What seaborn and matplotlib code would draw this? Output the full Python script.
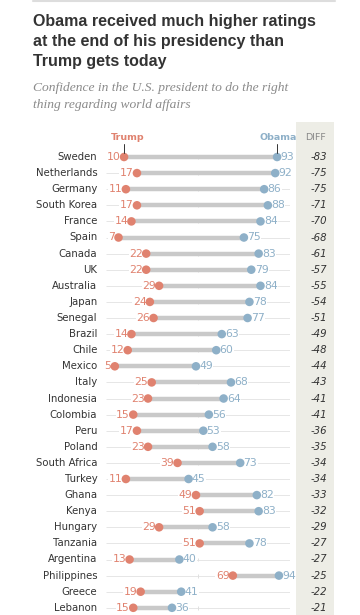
import numpy as np
import pandas as pd
import matplotlib

matplotlib.use("Agg")
import matplotlib.pyplot as plt
import seaborn as sns
from matplotlib.patches import Rectangle
from matplotlib.lines import Line2D

# Daten
countries = ["Sweden", "Netherlands", "Germany", "South Korea", "France", "Spain",
             "Canada", "UK", "Australia", "Japan", "Senegal", "Brazil", "Chile",
             "Mexico", "Italy", "Indonesia", "Colombia", "Peru", "Poland",
             "South Africa", "Turkey", "Ghana", "Kenya", "Hungary", "Tanzania",
             "Argentina", "Philippines", "Greece", "Lebanon"]
trump = [10, 17, 11, 17, 14, 7, 22, 22, 29, 24, 26, 14, 12, 5, 25, 23, 15, 17, 23,
         39, 11, 49, 51, 29, 51, 13, 69, 19, 15]
obama = [93, 92, 86, 88, 84, 75, 83, 79, 84, 78, 77, 63, 60, 49, 68, 64, 56, 53, 58,
         73, 45, 82, 83, 58, 78, 40, 94, 41, 36]
diff = [-83, -75, -75, -71, -70, -68, -61, -57, -55, -54, -51, -49, -48, -44, -43,
        -41, -41, -36, -35, -34, -34, -33, -32, -29, -27, -27, -25, -22, -21]

RED = "#E0826F"
BLUE = "#8EB0C8"
LINE = "#C9C9C9"
TEXT = "#333333"

sns.set_theme(style="white")

W, H = 360, 615
fig = plt.figure(figsize=(W / 100, H / 100), dpi=100)
fig.patch.set_facecolor("white")

# pixel helpers
def fx(px):
    return px / W

def fy(py):
    return 1 - py / H

x0, x100 = 105.6, 290.0
row0, step = 157.0, 16.1
ax_top = 145.0
ax = fig.add_axes([fx(x0), 0, fx(x100) - fx(x0), 1 - ax_top / H])
ax.axis("off")

df = pd.DataFrame({"country": countries, "trump": trump, "obama": obama, "diff": diff})
df["row"] = np.arange(len(df))

# DIFF column background
fig.add_artist(Rectangle((fx(296), 0), fx(334) - fx(296), fy(122), transform=fig.transFigure,
                         facecolor="#EDEDE6", edgecolor="none", zorder=0))
# top rule
fig.add_artist(Line2D([fx(33), fx(335)], [fy(1), fy(1)], transform=fig.transFigure,
                      color="#DDDDDD", lw=1.5))

# row guides
ax.hlines(df["row"], 0, 100, color="#E6E6E6", lw=0.7, zorder=1)
for rr in df["row"]:
    ax.vlines(50, rr - 0.12, rr + 0.12, color="#E0E0E0", lw=0.7, zorder=1)
ax.hlines(df["row"], df["trump"], df["obama"], color=LINE, lw=3.2, zorder=2)

long = df.melt(id_vars=["country", "row"], value_vars=["trump", "obama"],
               var_name="who", value_name="val")
sns.scatterplot(data=long, x="val", y="row", hue="who", palette={"trump": RED, "obama": BLUE},
                s=38, edgecolor="none", legend=False, ax=ax, zorder=4)
ax.set_xlim(0, 100)
ax.set_ylim((H - row0) / step, -(row0 - ax_top) / step)
ax.axis("off")

for _, r in df.iterrows():
    ax.text(-4.5, r["row"], r["country"], ha="right", va="center", fontsize=7.3,
            color=TEXT, clip_on=False)
    ax.text(r["trump"] - 1.8, r["row"], str(r["trump"]), ha="right", va="center",
            fontsize=7.8, color=RED, clip_on=False, zorder=2.5,
            bbox=dict(facecolor="white", edgecolor="none", pad=0.3))
    ax.text(r["obama"] + 1.8, r["row"], str(r["obama"]), ha="left", va="center",
            fontsize=7.8, color=BLUE, clip_on=False, zorder=2.5,
            bbox=dict(facecolor="white", edgecolor="none", pad=0.3))
    fig.text(fx(327), fy(row0 + step * r["row"]), str(r["diff"]), ha="right", va="center",
             fontsize=7.3, color=TEXT, style="italic")

# headers
fig.text(fx(128), fy(137), "Trump", ha="center", va="center", fontsize=6.8,
         color=RED, fontweight="bold")
fig.text(fx(278), fy(137), "Obama", ha="center", va="center", fontsize=6.8,
         color=BLUE, fontweight="bold")
fig.text(fx(315), fy(137), "DIFF", ha="center", va="center", fontsize=6.8, color="#888888")
for px in (x0 + trump[0] * 1.843, x0 + obama[0] * 1.843):
    fig.add_artist(Line2D([fx(px), fx(px)], [fy(144), fy(153)], transform=fig.transFigure,
                          color="#333333", lw=0.7))

# title & subtitle
fig.text(fx(33), fy(14), "Obama received much higher ratings\nat the end of his presidency than\nTrump gets today",
         ha="left", va="top", fontsize=11.5, fontweight="bold", color="#333333",
         family="Liberation Sans", linespacing=1.4)
fig.text(fx(33), fy(82), "Confidence in the U.S. president to do the right\nthing regarding world affairs",
         ha="left", va="top", fontsize=9.7, style="italic", color="#8A8A8A",
         family="Liberation Serif", linespacing=1.55)

fig.savefig("out.png", dpi=100)
